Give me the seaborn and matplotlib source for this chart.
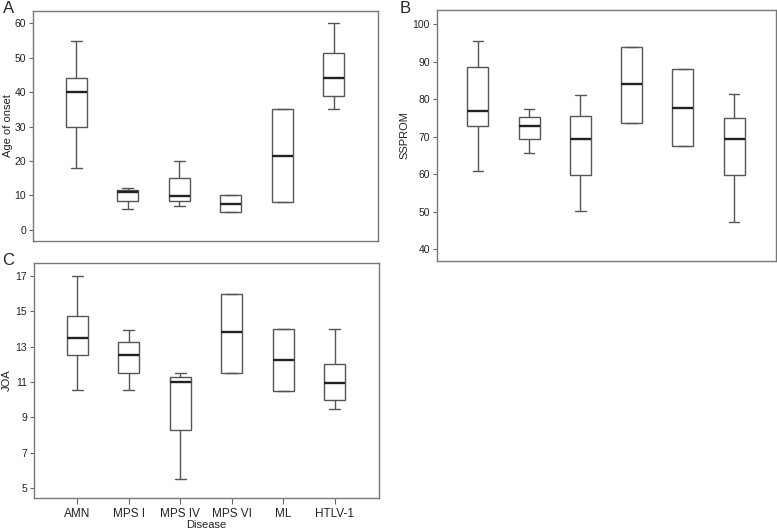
import numpy as np
import pandas as pd
import matplotlib
matplotlib.use("Agg")
import matplotlib.pyplot as plt
import seaborn as sns

# disease groups on the x axis
diseases = ["AMN", "MPS I", "MPS IV", "MPS VI", "ML", "HTLV-1"]

# five-number summaries: [low whisker, Q1, median, Q3, high whisker]
age_onset = [
    [18, 30, 40, 44.2, 55],
    [6, 8.3, 10.9, 11.4, 12],
    [7, 8.3, 9.9, 15, 20],
    [5, 5, 7.6, 10, 10],
    [8, 8, 21.4, 35, 35],
    [35, 39, 44, 51.5, 60],
]
ssprom = [
    [61, 73, 76.9, 88.7, 95.6],
    [65.8, 69.3, 73, 75.3, 77.4],
    [50.1, 59.7, 69.4, 75.6, 81.2],
    [73.8, 73.8, 84, 94, 94],
    [67.6, 67.6, 77.8, 88, 88],
    [47.3, 59.7, 69.5, 74.9, 81.5],
]
joa = [
    [10.53, 12.5, 13.5, 14.75, 17],
    [10.53, 11.53, 12.52, 13.26, 13.95],
    [5.53, 8.29, 11.0, 11.3, 11.5],
    [11.5, 11.5, 13.8, 15.97, 15.97],
    [10.47, 10.47, 12.26, 13.97, 13.97],
    [9.5, 9.98, 10.96, 12.0, 14.0],
]


def to_long(summaries):
    rows = []
    for name, vals in zip(diseases, summaries):
        for v in vals:
            rows.append({"Disease": name, "value": v})
    return pd.DataFrame(rows)


sns.set_theme(style="white")
plt.rcParams["font.family"] = ["Liberation Sans", "DejaVu Sans"]

W, H = 777, 531
fig = plt.figure(figsize=(W / 100, H / 100), dpi=100)


def panel(px_left, px_top, px_right, px_bottom):
    return fig.add_axes([px_left / W, (H - px_bottom) / H,
                         (px_right - px_left) / W, (px_bottom - px_top) / H])


ax_a = panel(33, 11, 378, 241)
ax_b = panel(437, 10, 776, 261)
ax_c = panel(34, 263, 379, 498)

box_kw = dict(
    x="Disease", y="value", order=diseases, whis=(0, 100), width=0.41,
    color="white", linecolor="#555555", linewidth=1.0,
    medianprops=dict(color="#222222", linewidth=1.7),
)

# axes, data, y label, y range, y ticks, axes left/right px, label right edge px
specs = [
    (ax_a, age_onset, "Age of onset", (-3.3, 63.6), np.arange(0, 61, 10), 33, 378, 13),
    (ax_b, ssprom, "SSPROM", (36.9, 103.8), np.arange(40, 101, 10), 437, 776, 409),
    (ax_c, joa, "JOA", (4.45, 17.72), np.arange(5, 18, 2), 34, 379, 12),
]

for ax, data, ylab, ylim, yticks, x0, x1, lab_x in specs:
    sns.boxplot(data=to_long(data), ax=ax, **box_kw)
    ax.set_ylim(*ylim)
    ax.set_yticks(yticks)
    ax.set_xlim(-0.84, 5.86)
    ax.set_ylabel(ylab, fontsize=8, color="#222222")
    ax.yaxis.set_label_coords((lab_x - x0) / (x1 - x0), 0.5)
    ax.tick_params(axis="y", which="both", left=True, length=3, width=0.8,
                   color="#666666", labelsize=7.5, labelcolor="#222222", pad=2)
    for sp in ax.spines.values():
        sp.set_color("#777777")
        sp.set_linewidth(1.0)

ax_b.set_xlim(-0.8, 5.82)

for ax in (ax_a, ax_b):
    ax.set_xlabel("")
    ax.set_xticks([])

ax_c.set_xlabel("Disease", fontsize=8, labelpad=0, color="#222222")
ax_c.tick_params(axis="x", bottom=True, length=4, width=0.8, color="#666666",
                 labelsize=8.5, labelcolor="#222222", pad=3)

fig.text(3 / W, 1 - 1 / H, "A", fontsize=12, va="top", ha="left")
fig.text(400 / W, 1 - 1 / H, "B", fontsize=12, va="top", ha="left")
fig.text(2 / W, 1 - 253 / H, "C", fontsize=12, va="top", ha="left")

fig.savefig("out.png", dpi=100)
